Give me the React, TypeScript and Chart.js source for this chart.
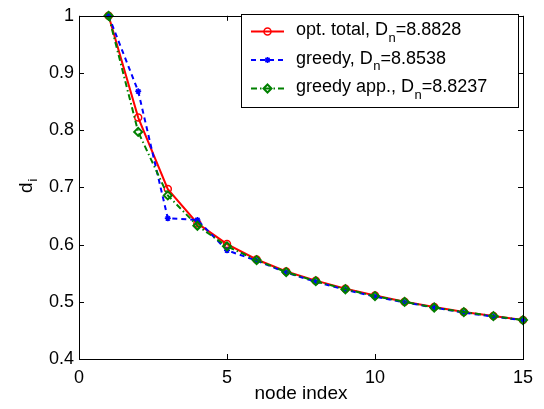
import React, { useEffect, useRef } from "react";
import { Chart, registerables } from "chart.js";

Chart.register(...registerables);

// ---- data ----
const nodeIndex = [1, 2, 3, 4, 5, 6, 7, 8, 9, 10, 11, 12, 13, 14, 15];
const optTotal = [1.0, 0.822, 0.697, 0.637, 0.601, 0.574, 0.553, 0.537, 0.523, 0.511, 0.5, 0.491, 0.482, 0.475, 0.468];
const greedy = [1.0, 0.868, 0.646, 0.643, 0.59, 0.572, 0.551, 0.535, 0.521, 0.509, 0.499, 0.49, 0.481, 0.474, 0.468];
const greedyApp = [1.0, 0.797, 0.686, 0.633, 0.597, 0.573, 0.552, 0.536, 0.522, 0.51, 0.5, 0.49, 0.482, 0.475, 0.468];
const seriesNames = ["opt. total", "greedy", "greedy app."];
const dnValues = ["8.8828", "8.8538", "8.8237"];
const xRange = [0, 15];
const xStep = 5;
const yRange = [0.4, 1];
const yStep = 0.1;
const xTitle = "node index";
const yTitleMain = "d";
const yTitleSub = "i";

const FONT = "'Liberation Sans', Arial, Helvetica, sans-serif";

const styles = [
  { color: "#ff0000", dash: [] as number[], marker: "circle" },
  { color: "#0000ff", dash: [5, 4], marker: "star" },
  { color: "#008000", dash: [6, 3, 1.5, 3], marker: "rectRot" },
];

function drawMarker(ctx: CanvasRenderingContext2D, kind: string, x: number, y: number, color: string) {
  ctx.save();
  ctx.setLineDash([]);
  ctx.strokeStyle = color;
  ctx.beginPath();
  if (kind === "circle") {
    ctx.lineWidth = 1.5;
    ctx.arc(x, y, 3.5, 0, Math.PI * 2);
  } else if (kind === "star") {
    ctx.lineWidth = 1.5;
    const r = 3;
    ctx.moveTo(x - r, y);
    ctx.lineTo(x + r, y);
    ctx.moveTo(x, y - r);
    ctx.lineTo(x, y + r);
    const d = r * 0.7;
    ctx.moveTo(x - d, y - d);
    ctx.lineTo(x + d, y + d);
    ctx.moveTo(x - d, y + d);
    ctx.lineTo(x + d, y - d);
  } else {
    ctx.lineWidth = 2;
    const r = 4;
    ctx.moveTo(x, y - r);
    ctx.lineTo(x + r, y);
    ctx.lineTo(x, y + r);
    ctx.lineTo(x - r, y);
    ctx.closePath();
  }
  ctx.stroke();
  ctx.restore();
}

const framePlugin = {
  id: "matlabFrame",
  afterDraw(chart: any) {
    const ctx: CanvasRenderingContext2D = chart.ctx;
    const { left, right, top, bottom } = chart.chartArea;
    const xs = chart.scales.x;
    const ys = chart.scales.y;
    ctx.save();
    // box
    ctx.strokeStyle = "#000";
    ctx.lineWidth = 1;
    ctx.setLineDash([]);
    ctx.strokeRect(Math.round(left) + 0.5, Math.round(top) + 0.5, Math.round(right - left), Math.round(bottom - top));
    // inward ticks
    const tl = 5;
    ctx.beginPath();
    xs.ticks.forEach((t: any) => {
      const px = Math.round(xs.getPixelForValue(t.value)) + 0.5;
      ctx.moveTo(px, bottom);
      ctx.lineTo(px, bottom - tl);
      ctx.moveTo(px, top);
      ctx.lineTo(px, top + tl);
    });
    ys.ticks.forEach((t: any) => {
      const py = Math.round(ys.getPixelForValue(t.value)) + 0.5;
      ctx.moveTo(left, py);
      ctx.lineTo(left + tl, py);
      ctx.moveTo(right, py);
      ctx.lineTo(right - tl, py);
    });
    ctx.stroke();

    // axis titles
    ctx.fillStyle = "#000";
    ctx.font = `19px ${FONT}`;
    ctx.textAlign = "center";
    ctx.textBaseline = "alphabetic";
    ctx.fillText(xTitle, (left + right) / 2, 399);

    ctx.save();
    ctx.translate(32, 193);
    ctx.rotate(-Math.PI / 2);
    ctx.textAlign = "left";
    ctx.font = `19px ${FONT}`;
    ctx.fillText(yTitleMain, 0, 0);
    const dw = ctx.measureText(yTitleMain).width;
    ctx.font = `13px ${FONT}`;
    ctx.fillText(yTitleSub, dw + 1, 5);
    ctx.restore();

    // legend
    const lx = 241, ly = 14, lw = 277, lh = 93;
    ctx.fillStyle = "#fff";
    ctx.fillRect(lx, ly, lw, lh);
    ctx.strokeStyle = "#000";
    ctx.lineWidth = 1;
    ctx.strokeRect(lx + 0.5, ly + 0.5, lw, lh);
    const baselines = [35, 63.5, 92];
    seriesNames.forEach((name, i) => {
      const st = styles[i];
      const by = baselines[i];
      const yLine = by - 3.5;
      ctx.save();
      ctx.strokeStyle = st.color;
      ctx.lineWidth = 2;
      ctx.setLineDash(st.dash);
      ctx.beginPath();
      ctx.moveTo(251, yLine);
      ctx.lineTo(284, yLine);
      ctx.stroke();
      ctx.restore();
      drawMarker(ctx, st.marker, 267.5, yLine, st.color);
      ctx.fillStyle = "#000";
      ctx.textAlign = "left";
      ctx.textBaseline = "alphabetic";
      ctx.font = `18px ${FONT}`;
      const main = `${name}, D`;
      ctx.fillText(main, 296, by);
      let x = 296 + ctx.measureText(main).width;
      ctx.font = `13px ${FONT}`;
      ctx.fillText("n", x + 0.5, by + 6.5);
      x += ctx.measureText("n").width + 0.5;
      ctx.font = `18px ${FONT}`;
      ctx.fillText(`=${dnValues[i]}`, x, by);
    });
    ctx.restore();
  },
};

export default function App() {
  const ref = useRef<HTMLCanvasElement | null>(null);
  useEffect(() => {
    if (!ref.current) return;
    const mk = (vals: number[]) => nodeIndex.map((x, i) => ({ x, y: vals[i] }));
    const allSeries = [optTotal, greedy, greedyApp];
    const datasets = allSeries.map((vals, i) => {
      const st = styles[i];
      return {
        label: seriesNames[i],
        data: mk(vals),
        borderColor: st.color,
        backgroundColor: "rgba(0,0,0,0)",
        borderWidth: 2,
        borderDash: st.dash,
        pointStyle: st.marker,
        pointRadius: st.marker === "rectRot" ? 4 : st.marker === "circle" ? 3.5 : 3,
        pointBorderWidth: st.marker === "rectRot" ? 2 : 1.5,
        pointBorderColor: st.color,
        pointBackgroundColor: "rgba(0,0,0,0)",
        tension: 0,
        fill: false,
        clip: false as any,
        order: 2 - i,
      };
    });
    const chart = new Chart(ref.current, {
      type: "line",
      data: { datasets },
      options: {
        responsive: false,
        animation: false,
        devicePixelRatio: 1,
        layout: { padding: { top: 9, right: 21, left: 0, bottom: 0 } },
        plugins: { legend: { display: false }, tooltip: { enabled: false } },
        scales: {
          x: {
            type: "linear",
            min: xRange[0],
            max: xRange[1],
            grid: { display: false, drawTicks: false },
            border: { display: false },
            ticks: {
              stepSize: xStep,
              padding: 8,
              color: "#000",
              font: { family: FONT, size: 18 },
              maxRotation: 0,
            },
            afterFit: (s: any) => {
              s.height = 50;
            },
          },
          y: {
            type: "linear",
            min: yRange[0],
            max: yRange[1],
            grid: { display: false, drawTicks: false },
            border: { display: false },
            ticks: {
              stepSize: yStep,
              padding: 5,
              color: "#000",
              font: { family: FONT, size: 18 },
              callback: (v: any) => String(parseFloat(Number(v).toFixed(2))),
            },
            afterFit: (s: any) => {
              s.width = 79;
            },
          },
        },
      },
      plugins: [framePlugin],
    });
    return () => chart.destroy();
  }, []);
  return (
    <div style={{ position: "fixed", left: 0, top: 0, width: 544, height: 409, background: "#fff" }}>
      <canvas ref={ref} width={544} height={409} style={{ display: "block" }} />
    </div>
  );
}
